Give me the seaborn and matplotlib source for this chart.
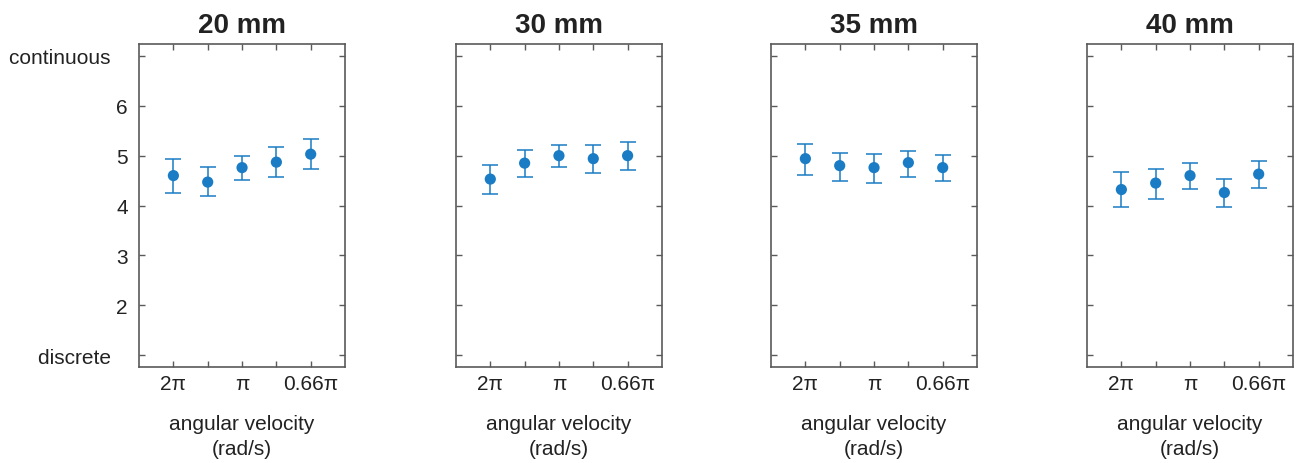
import matplotlib
matplotlib.use("Agg")
import matplotlib.pyplot as plt
import seaborn as sns
import pandas as pd

sizes = ["20 mm", "30 mm", "35 mm", "40 mm"]
speed_pos = [1, 2, 3, 4, 5]
speed_labels = ["2\u03c0", "", "\u03c0", "", "0.66\u03c0"]

# mean rating and error-bar ends for each hole size
means = {
    "20 mm": [4.60, 4.47, 4.76, 4.87, 5.03],
    "30 mm": [4.53, 4.85, 5.00, 4.94, 5.00],
    "35 mm": [4.94, 4.80, 4.76, 4.86, 4.76],
    "40 mm": [4.32, 4.45, 4.60, 4.26, 4.63],
}
lower = {
    "20 mm": [4.26, 4.19, 4.52, 4.58, 4.74],
    "30 mm": [4.24, 4.58, 4.78, 4.66, 4.72],
    "35 mm": [4.62, 4.50, 4.46, 4.58, 4.50],
    "40 mm": [3.97, 4.14, 4.34, 3.97, 4.36],
}
upper = {
    "20 mm": [4.94, 4.77, 4.99, 5.18, 5.33],
    "30 mm": [4.82, 5.12, 5.22, 5.22, 5.28],
    "35 mm": [5.24, 5.06, 5.04, 5.10, 5.02],
    "40 mm": [4.67, 4.74, 4.86, 4.54, 4.90],
}
y_ticks = [1, 2, 3, 4, 5, 6, 7]
y_labels = ["discrete   ", "2", "3", "4", "5", "6", "continuous   "]

sns.set_style("white")
plt.rcParams["font.family"] = ["Liberation Sans", "DejaVu Sans"]

blue = "#1a7cc4"
edge = "#5a5a5a"
txt = "#222222"

fig = plt.figure(figsize=(13.02, 4.64), dpi=100)
lefts = [0.1068, 0.3502, 0.5922, 0.8349]

for i, name in enumerate(sizes):
    ax = fig.add_axes([lefts[i], 0.2069, 0.1582, 0.6961])
    df = pd.DataFrame({"speed": speed_pos, "mean": means[name],
                       "lo": lower[name], "hi": upper[name]})
    err = [df["mean"] - df["lo"], df["hi"] - df["mean"]]
    ax.errorbar(df["speed"], df["mean"], yerr=err, fmt="none",
                ecolor=blue, elinewidth=1.1, capsize=6, capthick=1.1, zorder=2)
    sns.scatterplot(data=df, x="speed", y="mean", ax=ax, color=blue,
                    s=65, edgecolor="none", zorder=3)
    ax.set_xlim(0, 6)
    ax.set_ylim(0.76, 7.24)
    ax.set_xticks(speed_pos)
    ax.set_xticklabels(speed_labels, fontsize=15)
    ax.set_yticks(y_ticks)
    if i == 0:
        ax.set_yticklabels(y_labels, fontsize=15)
    else:
        ax.set_yticklabels([])
    ax.tick_params(direction="in", length=4, width=1, colors=edge,
                   top=True, right=True, left=True, bottom=True,
                   labelcolor=txt)
    ax.tick_params(axis="y", pad=8)
    ax.tick_params(axis="x", pad=5)
    for s in ax.spines.values():
        s.set_color(edge)
        s.set_linewidth(1.2)
    ax.set_xlabel("angular velocity\n(rad/s)", fontsize=15, color=txt,
                  labelpad=15, linespacing=1.4)
    ax.set_ylabel("")
    ax.set_title(name, fontsize=20, fontweight="bold", color=txt, pad=9)

fig.savefig("out.png", dpi=100)
